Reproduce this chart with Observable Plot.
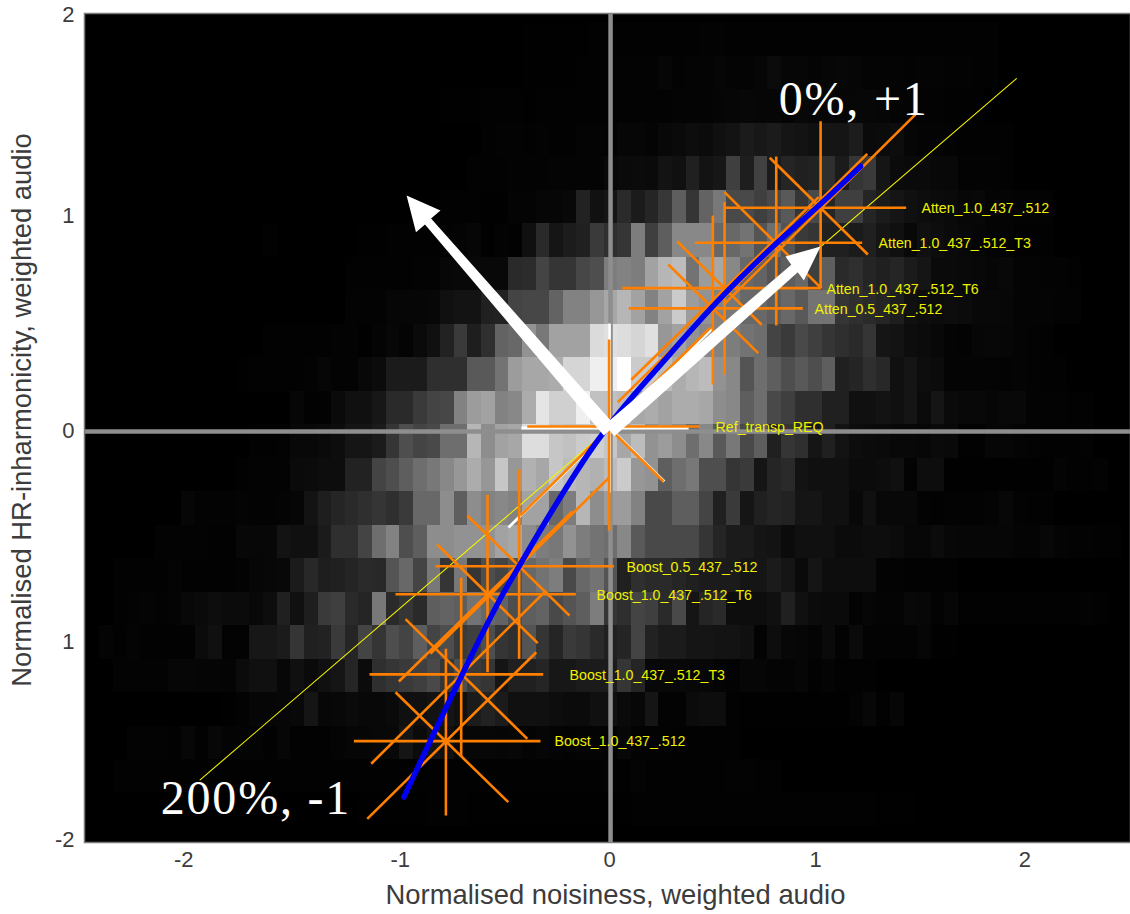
<!DOCTYPE html>
<html><head><meta charset="utf-8">
<script src="https://cdn.jsdelivr.net/npm/d3@7"></script>
<script src="https://cdn.jsdelivr.net/npm/@observablehq/plot@0.6"></script>
<style>
html,body{margin:0;padding:0;background:#fff}
.big text{letter-spacing:1.8px}
</style></head><body><div id="chart"></div>
<script>
// Axis text
const xTitle = "Normalised noisiness, weighted audio";
const yTitle = "Normalised HR-inharmonicity, weighted audio";
const xTickPos = [-2.035, -1.0, 0, 0.985, 1.985];
const xTickLabels = ["-2", "-1", "0", "1", "2"];
const yTickPos = [2.007, 1.037, 0, -1.018, -1.978];
const yTickLabels = ["2", "1", "0", "1", "-2"];

// Histogram bins (grey level per cell, each row starts at column rowStarts[r], column 0 begins at xBin0)
const xBin0 = 0.10516, xBinW = 0.06515, yBin0 = 1.9662, yBinH = 0.16164;
const rowStarts = [-8,-8,-14,-11,-12,-14,-27,-21,-21,-27,-29,-25,-28,-29,-33,-35,-38,-38,-39,-38,-30,-37,-38,-20];
const row0 = [2,2,2,2,2,3,3,4,4,4,4,4,4,5,5,4,4,4,4,4,4,4,4,4,4,4,4,3,3,3,3,3,3,3,3];
const row1 = [2,2,2,2,3,3,4,5,5,5,10,6,8,8,10,8,8,10,20,10,10,8,10,12,10,8,8,8,5,8,8,6,5,4,3];
const row2 = [2,2,2,3,3,3,2,3,3,3,3,3,4,5,6,6,5,8,8,8,9,10,12,10,10,8,14,12,12,10,12,12,10,8,8,6,5,3,3,3];
const row3 = [3,5,5,3,6,3,3,7,7,5,10,10,8,14,18,22,20,25,28,35,32,35,30,28,25,30,30,36,18,20,22,10,8,8,6,4,4,3,3];
const row4 = [3,4,4,5,6,6,8,8,8,8,14,18,20,18,28,25,40,28,32,70,38,72,35,45,40,42,55,35,60,65,30,20,18,18,15,14,6,5,5,3];
const row5 = [3,4,4,2,2,8,8,10,10,14,42,26,30,50,35,45,62,100,60,105,125,80,80,70,80,95,60,80,45,70,70,45,35,30,25,22,20,18,12,14,8,8,5,5,5];
const row6 = [3,0,0,0,0,0,0,1,2,3,3,3,4,5,8,10,2,5,4,25,50,30,36,40,65,55,60,130,70,100,140,140,140,110,110,120,90,115,90,65,60,40,40,35,40,30,25,15,25,22,18,14,10,7,7,4,4,3];
const row7 = [4,3,3,3,4,5,6,12,14,14,14,14,50,52,75,60,60,78,85,130,135,130,165,185,190,120,160,170,140,110,105,90,100,110,70,100,50,55,45,40,45,35,30,18,18,16,14,10,14,8,8,5,5,3];
const row8 = [6,6,6,10,10,10,12,25,28,28,40,42,75,78,78,105,135,135,155,170,185,165,135,165,205,160,150,135,125,110,110,100,110,95,120,120,60,55,50,45,38,25,22,20,22,20,14,14,12,8,8,8,5,5];
const row9 = [3,4,4,4,4,6,6,2,8,12,8,18,25,42,65,38,55,105,110,150,125,165,165,165,220,225,222,215,225,155,165,150,140,135,130,120,115,75,65,80,70,60,55,50,60,30,28,22,20,15,8,5,10,12,10,8,5,4];
const row10 = [2,3,4,4,3,5,10,5,5,15,20,35,35,35,55,55,55,95,95,120,160,170,170,175,215,215,240,240,255,205,205,190,175,185,190,150,140,90,115,100,85,95,85,100,40,45,55,48,25,30,22,20,8,8,8,8,6,8,5,4,3];
const row11 = [10,3,3,18,25,25,32,50,50,65,75,78,135,160,165,135,140,175,230,210,210,240,195,195,190,170,175,165,175,175,170,145,140,100,115,80,70,55,55,40,40,25,25,28,25,30,20,30,18,15,15,10,15,15,6,5,5,4,3];
const row12 = [4,4,5,15,15,18,22,30,30,35,60,85,75,80,115,115,185,145,165,170,222,222,200,195,205,210,200,170,190,150,160,145,115,140,95,125,80,100,40,60,55,30,40,28,22,20,18,15,15,12,18,16,4,4,10,10,8,5,4,3,3,6];
const row13 = [4,5,6,5,18,20,22,22,42,42,75,85,100,115,125,140,155,175,155,200,155,180,170,200,190,185,180,190,205,155,150,100,115,125,85,85,60,65,30,45,50,28,25,25,25,20,20,22,25,5,22,22,2,2,2,2,2,2,2,2,8,3,3,6];
const row14 = [10,5,5,5,8,6,6,8,10,28,38,45,50,55,60,55,65,110,110,145,100,145,135,140,135,165,165,110,130,185,145,160,160,135,80,80,100,100,75,40,65,30,40,45,42,30,30,25,25,15,25,15,15,15,6,4,6,6,6,8,12,6,4,3];
const row15 = [6,6,6,6,4,4,12,12,12,28,25,25,35,55,55,75,115,135,85,100,145,145,150,150,150,165,170,145,130,125,150,130,120,115,140,95,80,80,80,80,60,45,35,35,30,28,20,25,25,25,20,20,22,22,20,12,12,20,12,10,10,10,10,8,8,12,8,5,5,3,3];
const row16 = [3,3,3,3,8,3,3,3,4,5,10,12,14,35,48,38,40,45,50,48,90,110,75,125,60,125,60,85,75,90,110,120,130,80,110,120,90,40,55,50,50,45,40,35,35,35,30,30,35,30,18,30,22,22,22,22,5,5,3,3,3,3];
const row17 = [3,5,8,5,8,14,18,22,20,20,15,22,40,25,38,65,70,50,45,125,50,60,50,100,105,100,120,110,105,85,100,105,80,90,100,130,60,55,75,70,50,80,30,45,50,22,22,22,25,40,25,20,18,18,5,10,8,8,14,12,5,10,3,3,3,3,3,3,3,3,3,6,3];
const row18 = [8,3,8,3,4,4,4,20,25,5,5,32,32,35,60,40,42,65,45,75,60,85,75,100,75,85,65,70,85,60,55,90,60,45,65,60,50,40,45,75,42,35,35,30,30,28,28,25,6,22,12,10,8,18,5,18,5,5,5,6,10,2,2];
const row19 = [5,5,5,5,10,10,9,9,8,20,25,25,12,25,18,25,30,45,20,55,60,65,70,80,60,85,65,60,30,40,40,45,32,32,35,35,35,60,45,15,15,15,12,12,8,5,10,10,8,8,10,3,8,3,3,3];
const row20 = [2,6,10,10,12,14,30,12,15,18,15,15,18,25,25,28,30,25,35,42,35,25,25,25,22,20,20,25,25,18,12,30,6,6,20,22,22,3,2,2,2,2,2,2,2,2,5,12,3,10];
const row21 = [6,6,6,3,12,3,12,8,8,8,3,10,3,3,3,8,10,10,14,14,30,20,30,25,12,12,12,10,12,8,10,8,6,8,8,6,12,5,5,5,4,4,3,3,3];
const row22 = [3,3,3,3,3,3,3,3,3,3,4,4,4,4,3,3,3,3,3,3,3,4,4,4,4,4,4,4,4,4,4,4,4,4,4,4,6,4,8,4,4,3,3,3,3,6,6,3,3];
const row23 = [2,2,2,2,2,3,3,3,2,2,2,2,2,2,2,2,2,2,2,2,3,3,3,3,3,3,3,3,3,3,3,3,3,3,3,3,3,3,2,2,2];
const rows = [row0,row1,row2,row3,row4,row5,row6,row7,row8,row9,row10,row11,row12,row13,row14,row15,row16,row17,row18,row19,row20,row21,row22,row23];

// Reference lines
const crossX = [0.005];
const crossY = [-0.005];
const yellowLineX = [-1.957, 1.945];
const yellowLineY = [-1.686, 1.698];

// Centroid curve
const curveX = [-0.983,-0.704,-0.510,-0.425,-0.274,-0.091,0.005,0.276,0.507,0.797,1.009,1.200];
const curveY = [-1.769,-1.177,-0.790,-0.643,-0.386,-0.097,0.034,0.354,0.613,0.902,1.093,1.274];

// Stars: each entry is [x1,y1,x2,y2] for horizontal, vertical, NW-SE, NE-SW strokes
const starAtten10 = [[0.550,1.075,1.418,1.075],[1.009,1.492,1.009,0.687],[0.766,1.316,1.235,0.849],[1.463,1.525,0.550,0.611]];
const starAtten10T3 = [[0.408,0.906,1.208,0.906],[0.797,1.322,0.797,0.507],[0.550,1.150,1.012,0.687],[1.232,1.335,0.363,0.467]];
const starAtten10T6 = [[0.061,0.687,1.012,0.687],[0.550,1.102,0.550,0.270],[0.324,0.912,0.727,0.510],[1.000,1.126,0.104,0.245]];
const starAtten05 = [[0.092,0.589,0.924,0.589],[0.494,1.037,0.494,0.221],[0.281,0.801,0.711,0.373],[0.953,1.046,0.040,0.137]];
const starRef = [[-0.393,0.019,0.430,0.019],[-0.002,0.439,-0.002,-0.483],[-0.258,0.265,0.258,-0.246],[0.483,0.497,-0.425,-0.410]];
const starBoost05 = [[-0.832,-0.655,0.021,-0.655],[-0.432,-0.188,-0.432,-1.102],[-0.680,-0.410,-0.191,-0.893],[0,-0.225,-0.856,-1.077]];
const starBoost10T6 = [[-1.023,-0.790,-0.161,-0.790],[-0.583,-0.310,-0.583,-1.166],[-0.824,-0.550,-0.343,-1.026],[-0.178,-0.391,-1.007,-1.211]];
const starBoost10T3 = [[-1.147,-1.177,-0.317,-1.177],[-0.709,-0.711,-0.709,-1.572],[-0.975,-0.910,-0.393,-1.488],[-0.303,-0.772,-1.139,-1.608]];
const starBoost10 = [[-1.222,-1.499,-0.330,-1.499],[-0.782,-1.053,-0.782,-1.858],[-1.023,-1.263,-0.484,-1.793],[-0.350,-1.070,-1.158,-1.874]];
const stars = [starAtten10,starAtten10T3,starAtten10T6,starAtten05,starRef,starBoost05,starBoost10T6,starBoost10T3,starBoost10];
const whiteRef = [[-0.421,0.012,0.378,0.012],[0,0.516,0,-0.3],[-0.26,0.27,0.262,-0.246],[0.49,0.49,-0.483,-0.468]];

// Labels
const labelNames = ["Atten_1.0_437_.512","Atten_1.0_437_.512_T3","Atten_1.0_437_.512_T6","Atten_0.5_437_.512","Ref_transp_REQ","Boost_0.5_437_.512","Boost_1.0_437_.512_T6","Boost_1.0_437_.512_T3","Boost_1.0_437_.512"];
const labelX = [1.491,1.286,1.037,0.980,0.507,0.081,-0.062,-0.191,-0.263];
const labelY = [1.071,0.902,0.680,0.584,0.014,-0.661,-0.796,-1.182,-1.501];
const endNames = ["0%, +1","200%, -1"];
const endX = [1.167,-1.690];
const endY = [1.595,-1.775];

// Arrow outlines
const arrowNEx = [-0.0235,0.869,0.841,1.009,0.929,0.900,0.0235];
const arrowNEy = [0.0275,0.800,0.840,0.888,0.724,0.763,-0.0275];
const arrowNWx = [0.027,-0.853,-0.808,-0.970,-0.925,-0.882,-0.027];
const arrowNWy = [0.024,1.023,1.062,1.134,0.957,0.994,-0.024];

const cells = rows.flatMap((row, r) => row.map((v, i) => {
  const k = rowStarts[r] + i;
  return {x1: xBin0 + k * xBinW, x2: xBin0 + (k + 1) * xBinW, y1: yBin0 - r * yBinH, y2: yBin0 - (r + 1) * yBinH, v};
}));
const seg = s => ({x1: s[0], y1: s[1], x2: s[2], y2: s[3]});
const zip = (xs, ys) => xs.map((x, i) => ({x, y: ys[i]}));
const xFmt = new Map(xTickPos.map((d, i) => [d, xTickLabels[i]]));
const yFmt = new Map(yTickPos.map((d, i) => [d, yTickLabels[i]]));
const sans = "'Liberation Sans', Arial, sans-serif";
const ink = "#3c3c3c";

const plot = Plot.plot({
  width: 1130, height: 914,
  marginTop: 13, marginRight: 0, marginBottom: 72, marginLeft: 84,
  x: {domain: [-2.5096, 2.4904]},
  y: {domain: [-1.988, 2.012]},
  color: {type: "linear", domain: [0, 20, 255], range: ["#000000", "#0b0b0b", "#ffffff"]},
  style: {fontFamily: sans, background: "#fff", overflow: "hidden"},
  marks: [
    Plot.frame({fill: "#000", stroke: "none"}),
    Plot.rect(cells, {x1: "x1", x2: "x2", y1: "y1", y2: "y2", fill: "v", inset: 0, shapeRendering: "crispEdges", clip: true}),
    Plot.ruleX(crossX, {stroke: "#8e8e8e", strokeWidth: 4.5}),
    Plot.ruleY(crossY, {stroke: "#8e8e8e", strokeWidth: 4.5}),
    Plot.frame({stroke: "#7a7a7a", strokeWidth: 1.5}),
    Plot.line(zip(yellowLineX, yellowLineY), {x: "x", y: "y", stroke: "#f2f200", strokeWidth: 1.1}),
    Plot.link(whiteRef.map(seg), {x1: "x1", y1: "y1", x2: "x2", y2: "y2", stroke: "#fff", strokeWidth: 2.8}),
    Plot.link(stars.flat().map(seg), {x1: "x1", y1: "y1", x2: "x2", y2: "y2", stroke: "#ff8000", strokeWidth: 2.6}),
    Plot.line(zip(curveX, curveY), {x: "x", y: "y", stroke: "#0000f0", strokeWidth: 5.5, curve: "monotone-x"}),
    Plot.line(zip(arrowNEx, arrowNEy), {x: "x", y: "y", fill: "#fff", stroke: "none"}),
    Plot.line(zip(arrowNWx, arrowNWy), {x: "x", y: "y", fill: "#fff", stroke: "none"}),
    Plot.text(labelNames, {x: (d, i) => labelX[i], y: (d, i) => labelY[i], text: d => d, textAnchor: "start", fill: "#f0f000", fontSize: 14.2, fontFamily: sans}),
    Plot.text(endNames, {x: (d, i) => endX[i], y: (d, i) => endY[i], text: d => d, fill: "#fff", fontSize: 48, fontFamily: "'Liberation Serif', serif", className: "big"}),
    Plot.axisX({ticks: xTickPos, tickFormat: d => xFmt.get(d), tickSize: 0, tickPadding: 9, fontSize: 22, label: null, color: ink}),
    Plot.axisY({ticks: yTickPos, tickFormat: d => yFmt.get(d), tickSize: 0, tickPadding: 10, fontSize: 22, label: null, color: ink}),
    Plot.text([xTitle], {frameAnchor: "bottom", text: d => d, dx: 8, dy: 61, fontSize: 27.4, fill: ink, fontFamily: sans}),
    Plot.text([yTitle], {frameAnchor: "left", text: d => d, textAnchor: "middle", rotate: -90, dx: -62, dy: -18, fontSize: 27.4, fill: ink, fontFamily: sans})
  ]
});
document.getElementById("chart").appendChild(plot);
</script></body></html>
